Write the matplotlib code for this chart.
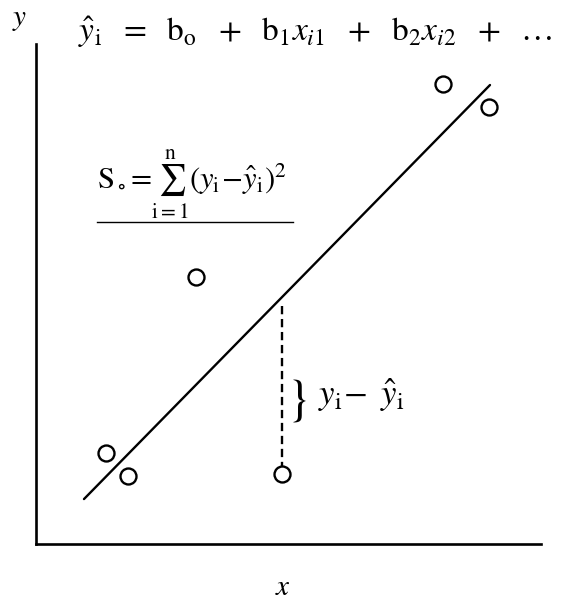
import numpy as np
import matplotlib.pyplot as plt

plt.rcParams['mathtext.fontset'] = 'stix'
plt.rcParams['font.family'] = 'STIXGeneral'

# observed points
x_obs = np.array([1.39, 1.82, 3.17, 4.87, 8.06, 8.97])
y_obs = np.array([1.82, 1.36, 5.34, 1.40, 9.20, 8.74])

# fitted line y = b0 + b1 * x
b0, b1 = -0.08, 1.03
x_line = np.array([0.95, 8.99])

# point whose residual is shown
k = 3

W, H = 565, 608
fig = plt.figure(figsize=(W / 100, H / 100), dpi=100)
ax = fig.add_axes([36 / W, 1 - 544 / H, 505 / W, 500 / H])
ax.set_xlim(0, 10)
ax.set_ylim(0, 10)

for s in ['top', 'right']:
    ax.spines[s].set_visible(False)
for s in ['left', 'bottom']:
    ax.spines[s].set_linewidth(1.9)
ax.set_xticks([])
ax.set_yticks([])

ax.plot(x_line, b0 + b1 * x_line, color='black', lw=1.7, solid_capstyle='round')
ax.plot(x_obs, y_obs, 'o', ms=11.5, mfc='none', mec='black', mew=1.7)

# residual of the highlighted point
y_fit = b0 + b1 * x_obs[k]
ax.plot([x_obs[k], x_obs[k]], [y_fit - 0.18, y_obs[k] + 0.17], color='black',
        lw=1.7, dashes=(3.5, 2))


def put(px, py, s, **kw):
    fig.text(px / W, 1 - py / H, s, **kw)


put(20, 20, r'$y$', fontsize=21, ha='center', va='center')
put(283, 588, r'$x$', fontsize=21, ha='center', va='center')

put(78, 32, r'$\hat{y}_\mathrm{i}\ \ =\ \ \mathrm{b}_\mathrm{o}\ \ +\ \ \mathrm{b}_1 x_{i1}\ \ +\ \ '
    r'\mathrm{b}_2 x_{i2}\ \ +\ \ \ldots$', fontsize=24, ha='left', va='center')

put(97, 184, r'$\mathrm{S}_\circ\!=\!\sum_{\mathrm{i=1}}^{\mathrm{n}}(y_\mathrm{i}\!-\!\hat{y}_\mathrm{i})^2$',
    fontsize=22, ha='left', va='center')
fig.add_artist(plt.Line2D([97 / W, 293 / W], [1 - 222 / H, 1 - 222 / H],
                          color='black', lw=1.0))

put(297, 400, r'$\}$', fontsize=36, ha='center', va='center')
put(318, 395, r'$y_\mathrm{i}\!-\ \hat{y}_\mathrm{i}$', fontsize=25, ha='left', va='center')

fig.savefig('out.png', dpi=100)
